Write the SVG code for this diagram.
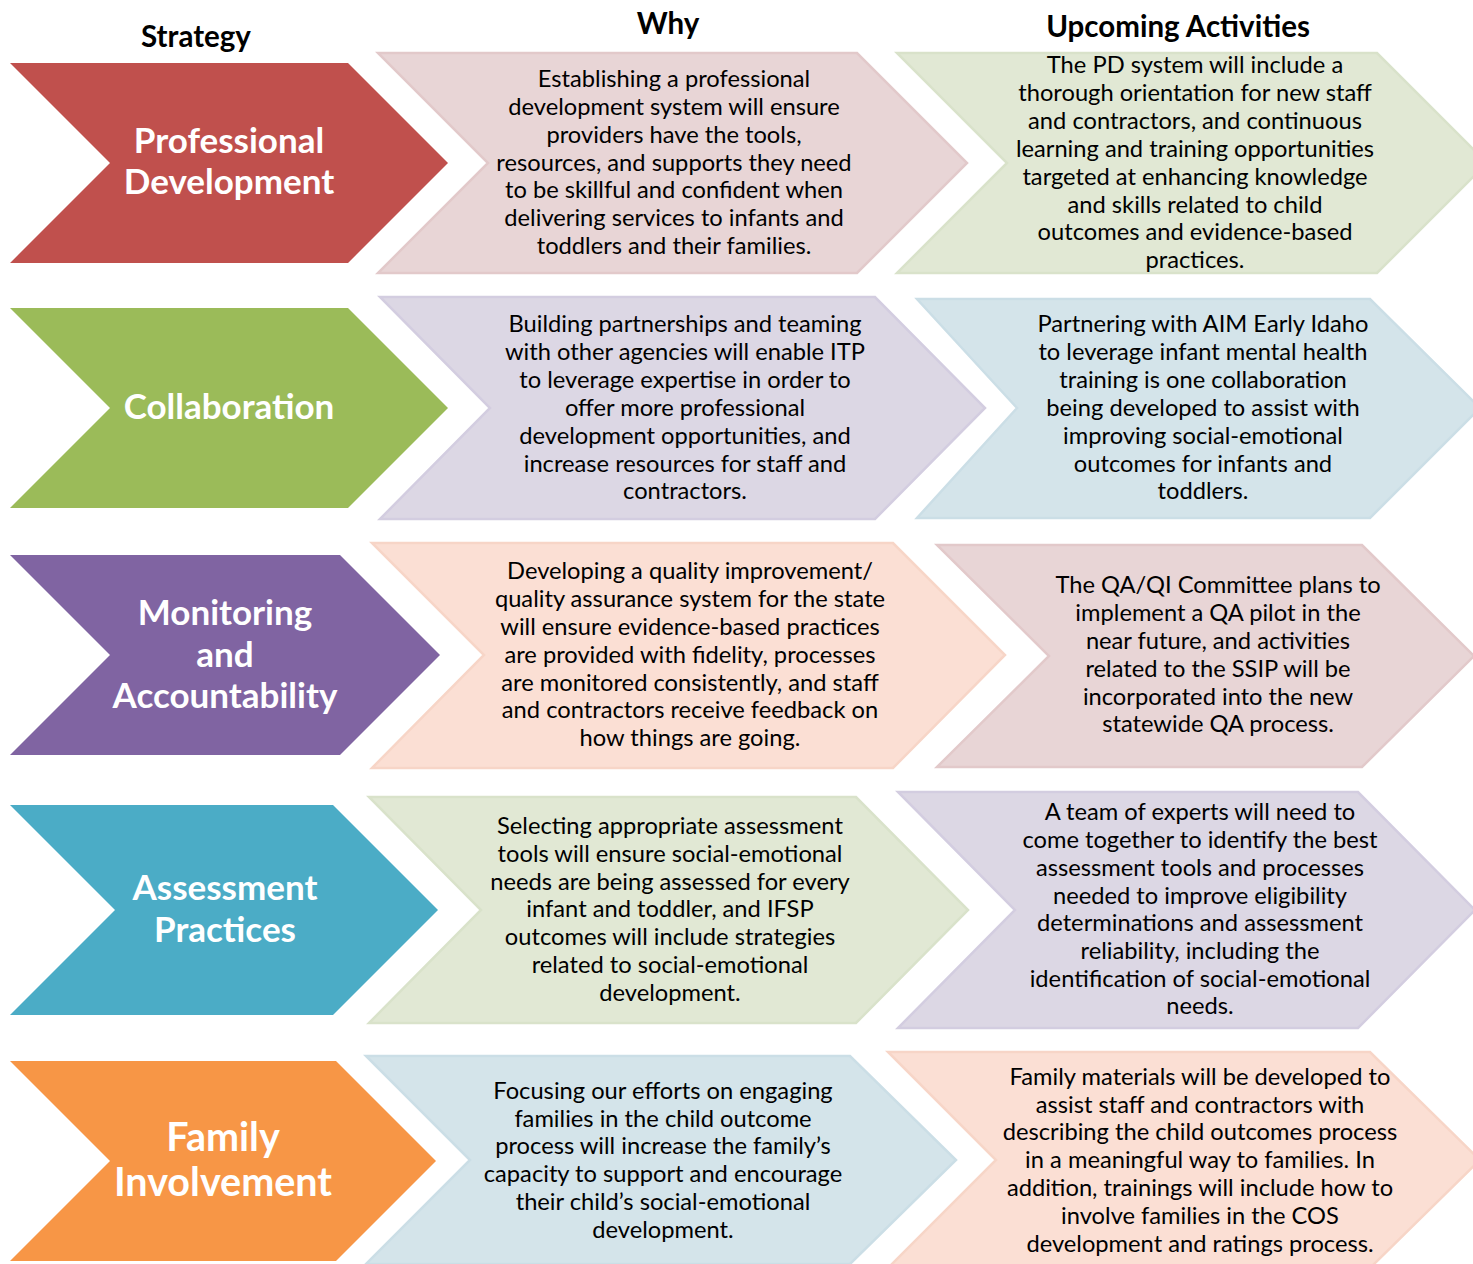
<svg xmlns="http://www.w3.org/2000/svg" width="1473" height="1264" viewBox="0 0 1473 1264">
<style>
.hdr{font-family:Lato,"Liberation Sans",sans-serif;font-weight:bold;font-size:29.5px;fill:#000;text-anchor:middle}
.lbl{font-family:Lato,"Liberation Sans",sans-serif;font-weight:bold;font-size:35px;fill:#fff;text-anchor:middle}
.lbl-lg{font-size:39.5px}
.txt{font-family:Lato,"Liberation Sans",sans-serif;font-size:23.7px;fill:#000;text-anchor:middle}
.pink{fill:#E8D5D6;stroke:#E2C9CA;stroke-width:2.5}
.lgreen{fill:#E1E8D4;stroke:#D9E2CA;stroke-width:2.5}
.lav{fill:#DCD7E4;stroke:#D3CDE0;stroke-width:2.5}
.lblue{fill:#D4E4EA;stroke:#CBDEE6;stroke-width:2.5}
.peach{fill:#FBDFD4;stroke:#F7D5C7;stroke-width:2.5}
</style>
<rect width="1473" height="1264" fill="#fff"/>
<g id="headers">
<text class="hdr" x="196" y="47">Strategy</text>
<text class="hdr" x="668" y="34">Why</text>
<text class="hdr" x="1178" y="37">Upcoming Activities</text>
</g>
<g id="strategy-professional-development">
<polygon fill="#C0504D" points="10,63 348,63 448,163 348,263 10,263 110,163"/>
<text class="lbl"><tspan x="229" y="153">Professional</tspan><tspan x="229" y="194">Development</tspan></text>
</g>
<g id="why-professional-development">
<polygon class="pink" points="378,53 857,53 967,163 857,273 378,273 488,163"/>
<text class="txt"><tspan x="674" y="87">Establishing a professional</tspan><tspan x="674" y="115">development system will ensure</tspan><tspan x="674" y="143">providers have the tools,</tspan><tspan x="674" y="171">resources, and supports they need</tspan><tspan x="674" y="198">to be skillful and confident when</tspan><tspan x="674" y="226">delivering services to infants and</tspan><tspan x="674" y="254">toddlers and their families.</tspan></text>
</g>
<g id="upcoming-professional-development">
<polygon class="lgreen" points="897,53 1377,53 1487,163 1377,273 897,273 1007,163"/>
<text class="txt"><tspan x="1195" y="73">The PD system will include a</tspan><tspan x="1195" y="101">thorough orientation for new staff</tspan><tspan x="1195" y="129">and contractors, and continuous</tspan><tspan x="1195" y="157">learning and training opportunities</tspan><tspan x="1195" y="185">targeted at enhancing knowledge</tspan><tspan x="1195" y="213">and skills related to child</tspan><tspan x="1195" y="240">outcomes and evidence-based</tspan><tspan x="1195" y="268">practices.</tspan></text>
</g>
<g id="strategy-collaboration">
<polygon fill="#9BBB59" points="10,308 348,308 448,408 348,508 10,508 110,408"/>
<text class="lbl"><tspan x="229" y="419">Collaboration</tspan></text>
</g>
<g id="why-collaboration">
<polygon class="lav" points="380,297 875,297 985,408 875,519 380,519 490,408"/>
<text class="txt"><tspan x="685" y="332">Building partnerships and teaming</tspan><tspan x="685" y="360">with other agencies will enable ITP</tspan><tspan x="685" y="388">to leverage expertise in order to</tspan><tspan x="685" y="416">offer more professional</tspan><tspan x="685" y="444">development opportunities, and</tspan><tspan x="685" y="472">increase resources for staff and</tspan><tspan x="685" y="499">contractors.</tspan></text>
</g>
<g id="upcoming-collaboration">
<polygon class="lblue" points="917,299 1370,299 1480,408 1370,518 917,518 1017,408"/>
<text class="txt"><tspan x="1203" y="332">Partnering with AIM Early Idaho</tspan><tspan x="1203" y="360">to leverage infant mental health</tspan><tspan x="1203" y="388">training is one collaboration</tspan><tspan x="1203" y="416">being developed to assist with</tspan><tspan x="1203" y="444">improving social-emotional</tspan><tspan x="1203" y="472">outcomes for infants and</tspan><tspan x="1203" y="499">toddlers.</tspan></text>
</g>
<g id="strategy-monitoring">
<polygon fill="#8064A2" points="10,555 340,555 440,655 340,755 10,755 110,655"/>
<text class="lbl"><tspan x="225" y="625">Monitoring</tspan><tspan x="225" y="667">and</tspan><tspan x="225" y="708">Accountability</tspan></text>
</g>
<g id="why-monitoring">
<polygon class="peach" points="372,543 893,543 1005,655 893,768 372,768 484,655"/>
<text class="txt"><tspan x="690" y="579">Developing a quality improvement/</tspan><tspan x="690" y="607">quality assurance system for the state</tspan><tspan x="690" y="635">will ensure evidence-based practices</tspan><tspan x="690" y="663">are provided with fidelity, processes</tspan><tspan x="690" y="691">are monitored consistently, and staff</tspan><tspan x="690" y="718">and contractors receive feedback on</tspan><tspan x="690" y="746">how things are going.</tspan></text>
</g>
<g id="upcoming-monitoring">
<polygon class="pink" points="937,545 1362,545 1474,656 1362,767 937,767 1049,656"/>
<text class="txt"><tspan x="1218" y="593">The QA/QI Committee plans to</tspan><tspan x="1218" y="621">implement a QA pilot in the</tspan><tspan x="1218" y="649">near future, and activities</tspan><tspan x="1218" y="677">related to the SSIP will be</tspan><tspan x="1218" y="705">incorporated into the new</tspan><tspan x="1218" y="732">statewide QA process.</tspan></text>
</g>
<g id="strategy-assessment">
<polygon fill="#4BACC6" points="10,805 333,805 438,910 333,1015 10,1015 115,910"/>
<text class="lbl"><tspan x="225" y="900">Assessment</tspan><tspan x="225" y="942">Practices</tspan></text>
</g>
<g id="why-assessment">
<polygon class="lgreen" points="369,797 856,797 968,910 856,1023 369,1023 481,910"/>
<text class="txt"><tspan x="670" y="834">Selecting appropriate assessment</tspan><tspan x="670" y="862">tools will ensure social-emotional</tspan><tspan x="670" y="890">needs are being assessed for every</tspan><tspan x="670" y="917">infant and toddler, and IFSP</tspan><tspan x="670" y="945">outcomes will include strategies</tspan><tspan x="670" y="973">related to social-emotional</tspan><tspan x="670" y="1001">development.</tspan></text>
</g>
<g id="upcoming-assessment">
<polygon class="lav" points="898,792 1358,792 1475,910 1358,1028 898,1028 1015,910"/>
<text class="txt"><tspan x="1200" y="820">A team of experts will need to</tspan><tspan x="1200" y="848">come together to identify the best</tspan><tspan x="1200" y="876">assessment tools and processes</tspan><tspan x="1200" y="904">needed to improve eligibility</tspan><tspan x="1200" y="931">determinations and assessment</tspan><tspan x="1200" y="959">reliability, including the</tspan><tspan x="1200" y="987">identification of social-emotional</tspan><tspan x="1200" y="1014">needs.</tspan></text>
</g>
<g id="strategy-family">
<polygon fill="#F79646" points="10,1061 336,1061 436,1161 336,1261 10,1261 110,1161"/>
<text class="lbl lbl-lg"><tspan x="223" y="1151">Family</tspan><tspan x="223" y="1196">Involvement</tspan></text>
</g>
<g id="why-family">
<polygon class="lblue" points="366,1056 850,1056 956,1160 850,1264 366,1264 470,1160"/>
<text class="txt"><tspan x="663" y="1099">Focusing our efforts on engaging</tspan><tspan x="663" y="1127">families in the child outcome</tspan><tspan x="663" y="1154">process will increase the family’s</tspan><tspan x="663" y="1182">capacity to support and encourage</tspan><tspan x="663" y="1210">their child’s social-emotional</tspan><tspan x="663" y="1238">development.</tspan></text>
</g>
<g id="upcoming-family">
<polygon class="peach" points="888,1052 1370,1052 1480,1160 1370,1268 888,1268 996,1160"/>
<text class="txt"><tspan x="1200" y="1085">Family materials will be developed to</tspan><tspan x="1200" y="1113">assist staff and contractors with</tspan><tspan x="1200" y="1140">describing the child outcomes process</tspan><tspan x="1200" y="1168">in a meaningful way to families. In</tspan><tspan x="1200" y="1196">addition, trainings will include how to</tspan><tspan x="1200" y="1224">involve families in the COS</tspan><tspan x="1200" y="1252">development and ratings process.</tspan></text>
</g>
</svg>
